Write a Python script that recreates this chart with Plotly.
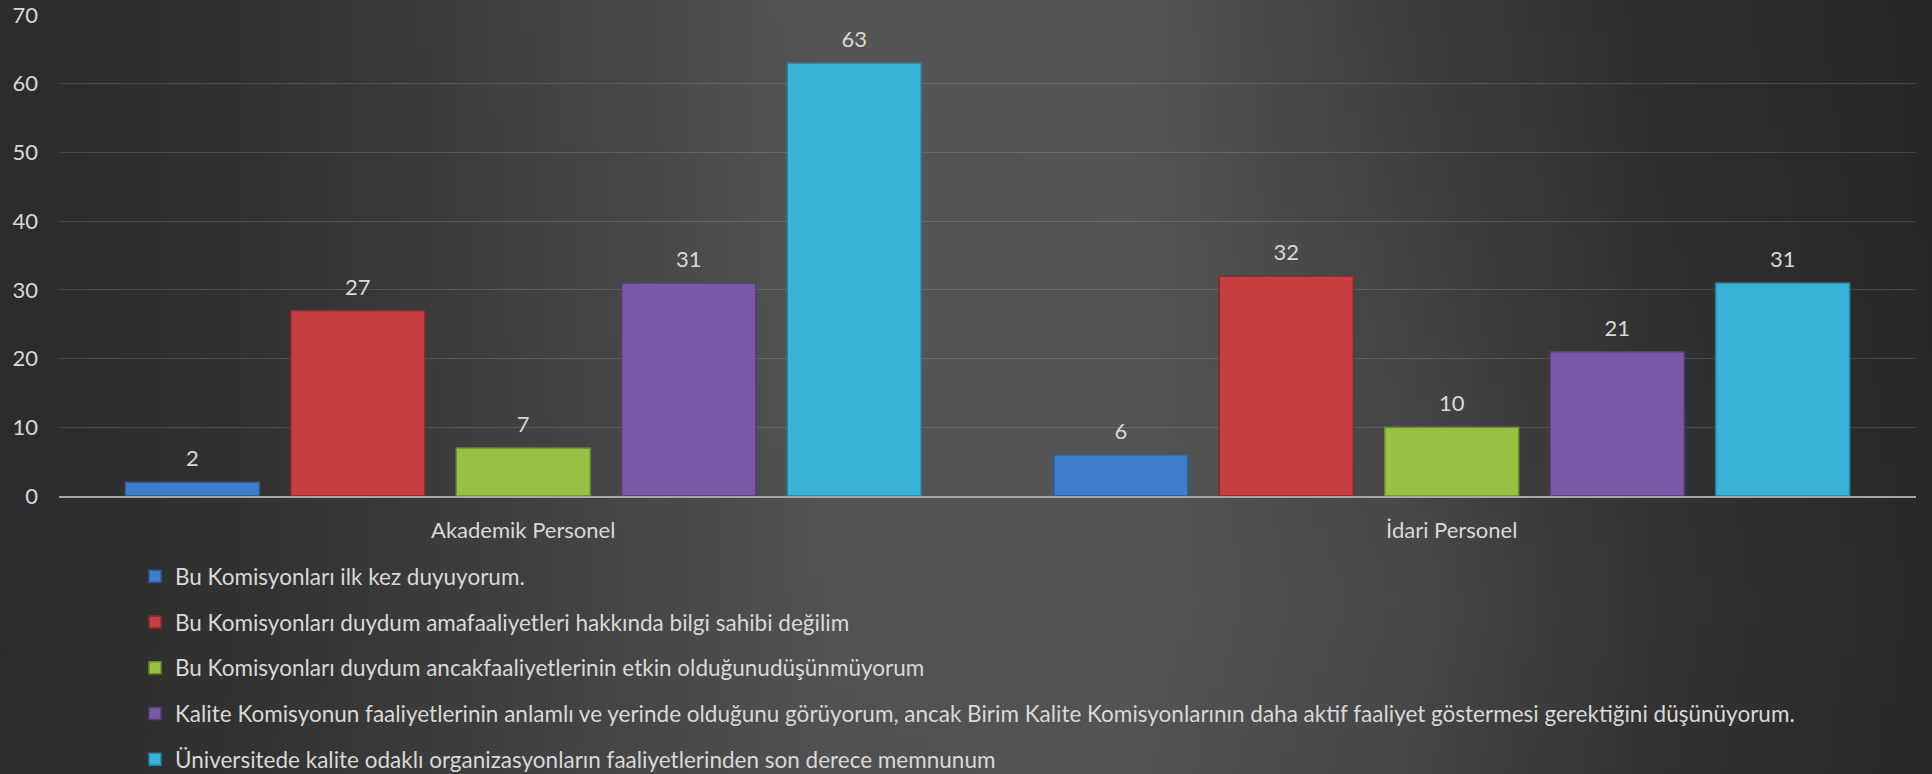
import base64
import struct
import zlib

import plotly.graph_objects as go

# ---------------- data ----------------
categories = ["Akademik Personel", "İdari Personel"]

series_names = [
    "Bu Komisyonları ilk kez duyuyorum.",
    "Bu Komisyonları duydum amafaaliyetleri hakkında bilgi sahibi değilim",
    "Bu Komisyonları duydum ancakfaaliyetlerinin etkin olduğunudüşünmüyorum",
    "Kalite Komisyonun faaliyetlerinin anlamlı ve yerinde olduğunu görüyorum, ancak Birim Kalite Komisyonlarının daha aktif faaliyet göstermesi gerektiğini düşünüyorum.",
    "Üniversitede kalite odaklı organizasyonların faaliyetlerinden son derece memnunum",
]

values_ilk_kez = [2, 6]
values_bilgi_yok = [27, 32]
values_etkin_degil = [7, 10]
values_aktif_olmali = [31, 21]
values_memnun = [63, 31]

y_ticks = [0, 10, 20, 30, 40, 50, 60, 70]

series_values = [values_ilk_kez, values_bilgi_yok, values_etkin_degil,
                 values_aktif_olmali, values_memnun]

bar_colors = ["#3f7ecb", "#c63e3e", "#96c142", "#7a58a8", "#38b2d6"]
bar_lines = ["#2b5a94", "#8a2a2a", "#6a8a2c", "#563d78", "#25809c"]

W, H = 1932, 774


# ---------------- background gradient image (decoration) ----------------
def make_bg_png():
    gx = [0, 300, 600, 850, 1150, 1400, 1650, 1932]
    gy = [0, 390, 774]
    gv = [
        [42, 50, 68, 85, 85, 62, 46, 38],
        [42, 50, 66, 82, 84, 74, 52, 40],
        [44, 52, 70, 78, 78, 62, 46, 37],
    ]

    def interp1(xs, vs, x):
        for i in range(len(xs) - 1):
            if xs[i] <= x <= xs[i + 1]:
                t = (x - xs[i]) / (xs[i + 1] - xs[i])
                return vs[i] + t * (vs[i + 1] - vs[i])
        return vs[-1]

    iw, ih = 194, 78
    raw = bytearray()
    for j in range(ih):
        py = j * (H / (ih - 1))
        rowvals = [interp1(gy, [gv[r][c] for r in range(3)], py) for c in range(len(gx))]
        raw.append(0)
        for i in range(iw):
            px = i * (W / (iw - 1))
            v = int(round(interp1(gx, rowvals, px)))
            raw += bytes((v, v, v))

    def chunk(tag, data):
        c = struct.pack(">I", len(data)) + tag + data
        return c + struct.pack(">I", zlib.crc32(tag + data) & 0xFFFFFFFF)

    png = b"\x89PNG\r\n\x1a\n"
    png += chunk(b"IHDR", struct.pack(">IIBBBBB", iw, ih, 8, 2, 0, 0, 0))
    png += chunk(b"IDAT", zlib.compress(bytes(raw), 9))
    png += chunk(b"IEND", b"")
    return "data:image/png;base64," + base64.b64encode(png).decode()


FONT = "Lato"
TXT = "#d9d9d9"

fig = go.Figure()
for i, (name, vals) in enumerate(zip(series_names, series_values)):
    fig.add_trace(go.Bar(
        name=name,
        x=categories,
        y=vals,
        offsetgroup=str(i),
        legendgroup=f"g{i}",
        marker=dict(color=bar_colors[i], line=dict(color=bar_lines[i], width=1.5)),
        hoverinfo="x+y+name",
    ))

# value labels, aligned with the grouped bars
for i, (name, vals) in enumerate(zip(series_names, series_values)):
    fig.add_trace(go.Scatter(
        x=categories,
        y=vals,
        mode="markers+text",
        text=[str(v) for v in vals],
        textposition="top center",
        textfont=dict(family=FONT, size=22, color=TXT),
        marker=dict(size=15, opacity=0),
        offsetgroup=str(i),
        showlegend=False,
        hoverinfo="skip",
        cliponaxis=False,
    ))

px_left, px_right = 59, 1916
py_top, py_zero = 15, 496

fig.update_layout(
    width=W,
    height=H,
    margin=dict(l=0, r=0, t=0, b=0, autoexpand=False),
    paper_bgcolor="#333333",
    plot_bgcolor="rgba(0,0,0,0)",
    barmode="group",
    scattermode="group",
    bargap=0.109,
    scattergap=0.109,
    bargroupgap=0.19,
    font=dict(family=FONT, size=22, color=TXT),
    showlegend=True,
    legend=dict(
        orientation="v",
        x=135 / W,
        xanchor="left",
        y=(H - 555) / H,
        yanchor="top",
        bgcolor="rgba(0,0,0,0)",
        font=dict(family=FONT, size=22.5, color=TXT),
        tracegroupgap=13.5,
        traceorder="grouped",
        itemclick=False,
    ),
    xaxis=dict(
        domain=[px_left / W, px_right / W],
        showline=True,
        linecolor="#a6a6a6",
        linewidth=2,
        showgrid=False,
        ticks="",
        tickfont=dict(family=FONT, size=22, color=TXT),
        ticklabelstandoff=14,
    ),
    yaxis=dict(
        domain=[(H - py_zero) / H, (H - py_top) / H],
        range=[0, 70],
        tickvals=y_ticks,
        showgrid=True,
        gridcolor="rgba(255,255,255,0.13)",
        gridwidth=1.3,
        zeroline=False,
        showline=False,
        ticks="",
        tickfont=dict(family=FONT, size=22, color=TXT),
        ticklabelstandoff=20,
    ),
    images=[dict(
        source=make_bg_png(),
        xref="paper", yref="paper",
        x=-px_left / (px_right - px_left),
        y=1 + py_top / (py_zero - py_top),
        sizex=W / (px_right - px_left),
        sizey=H / (py_zero - py_top),
        xanchor="left", yanchor="top",
        sizing="stretch",
        layer="below",
    )],
)

fig.write_html(
    "out.html",
    config={"displayModeBar": False},
    post_script="document.body.style.margin='0';document.body.style.overflow='hidden';",
)
